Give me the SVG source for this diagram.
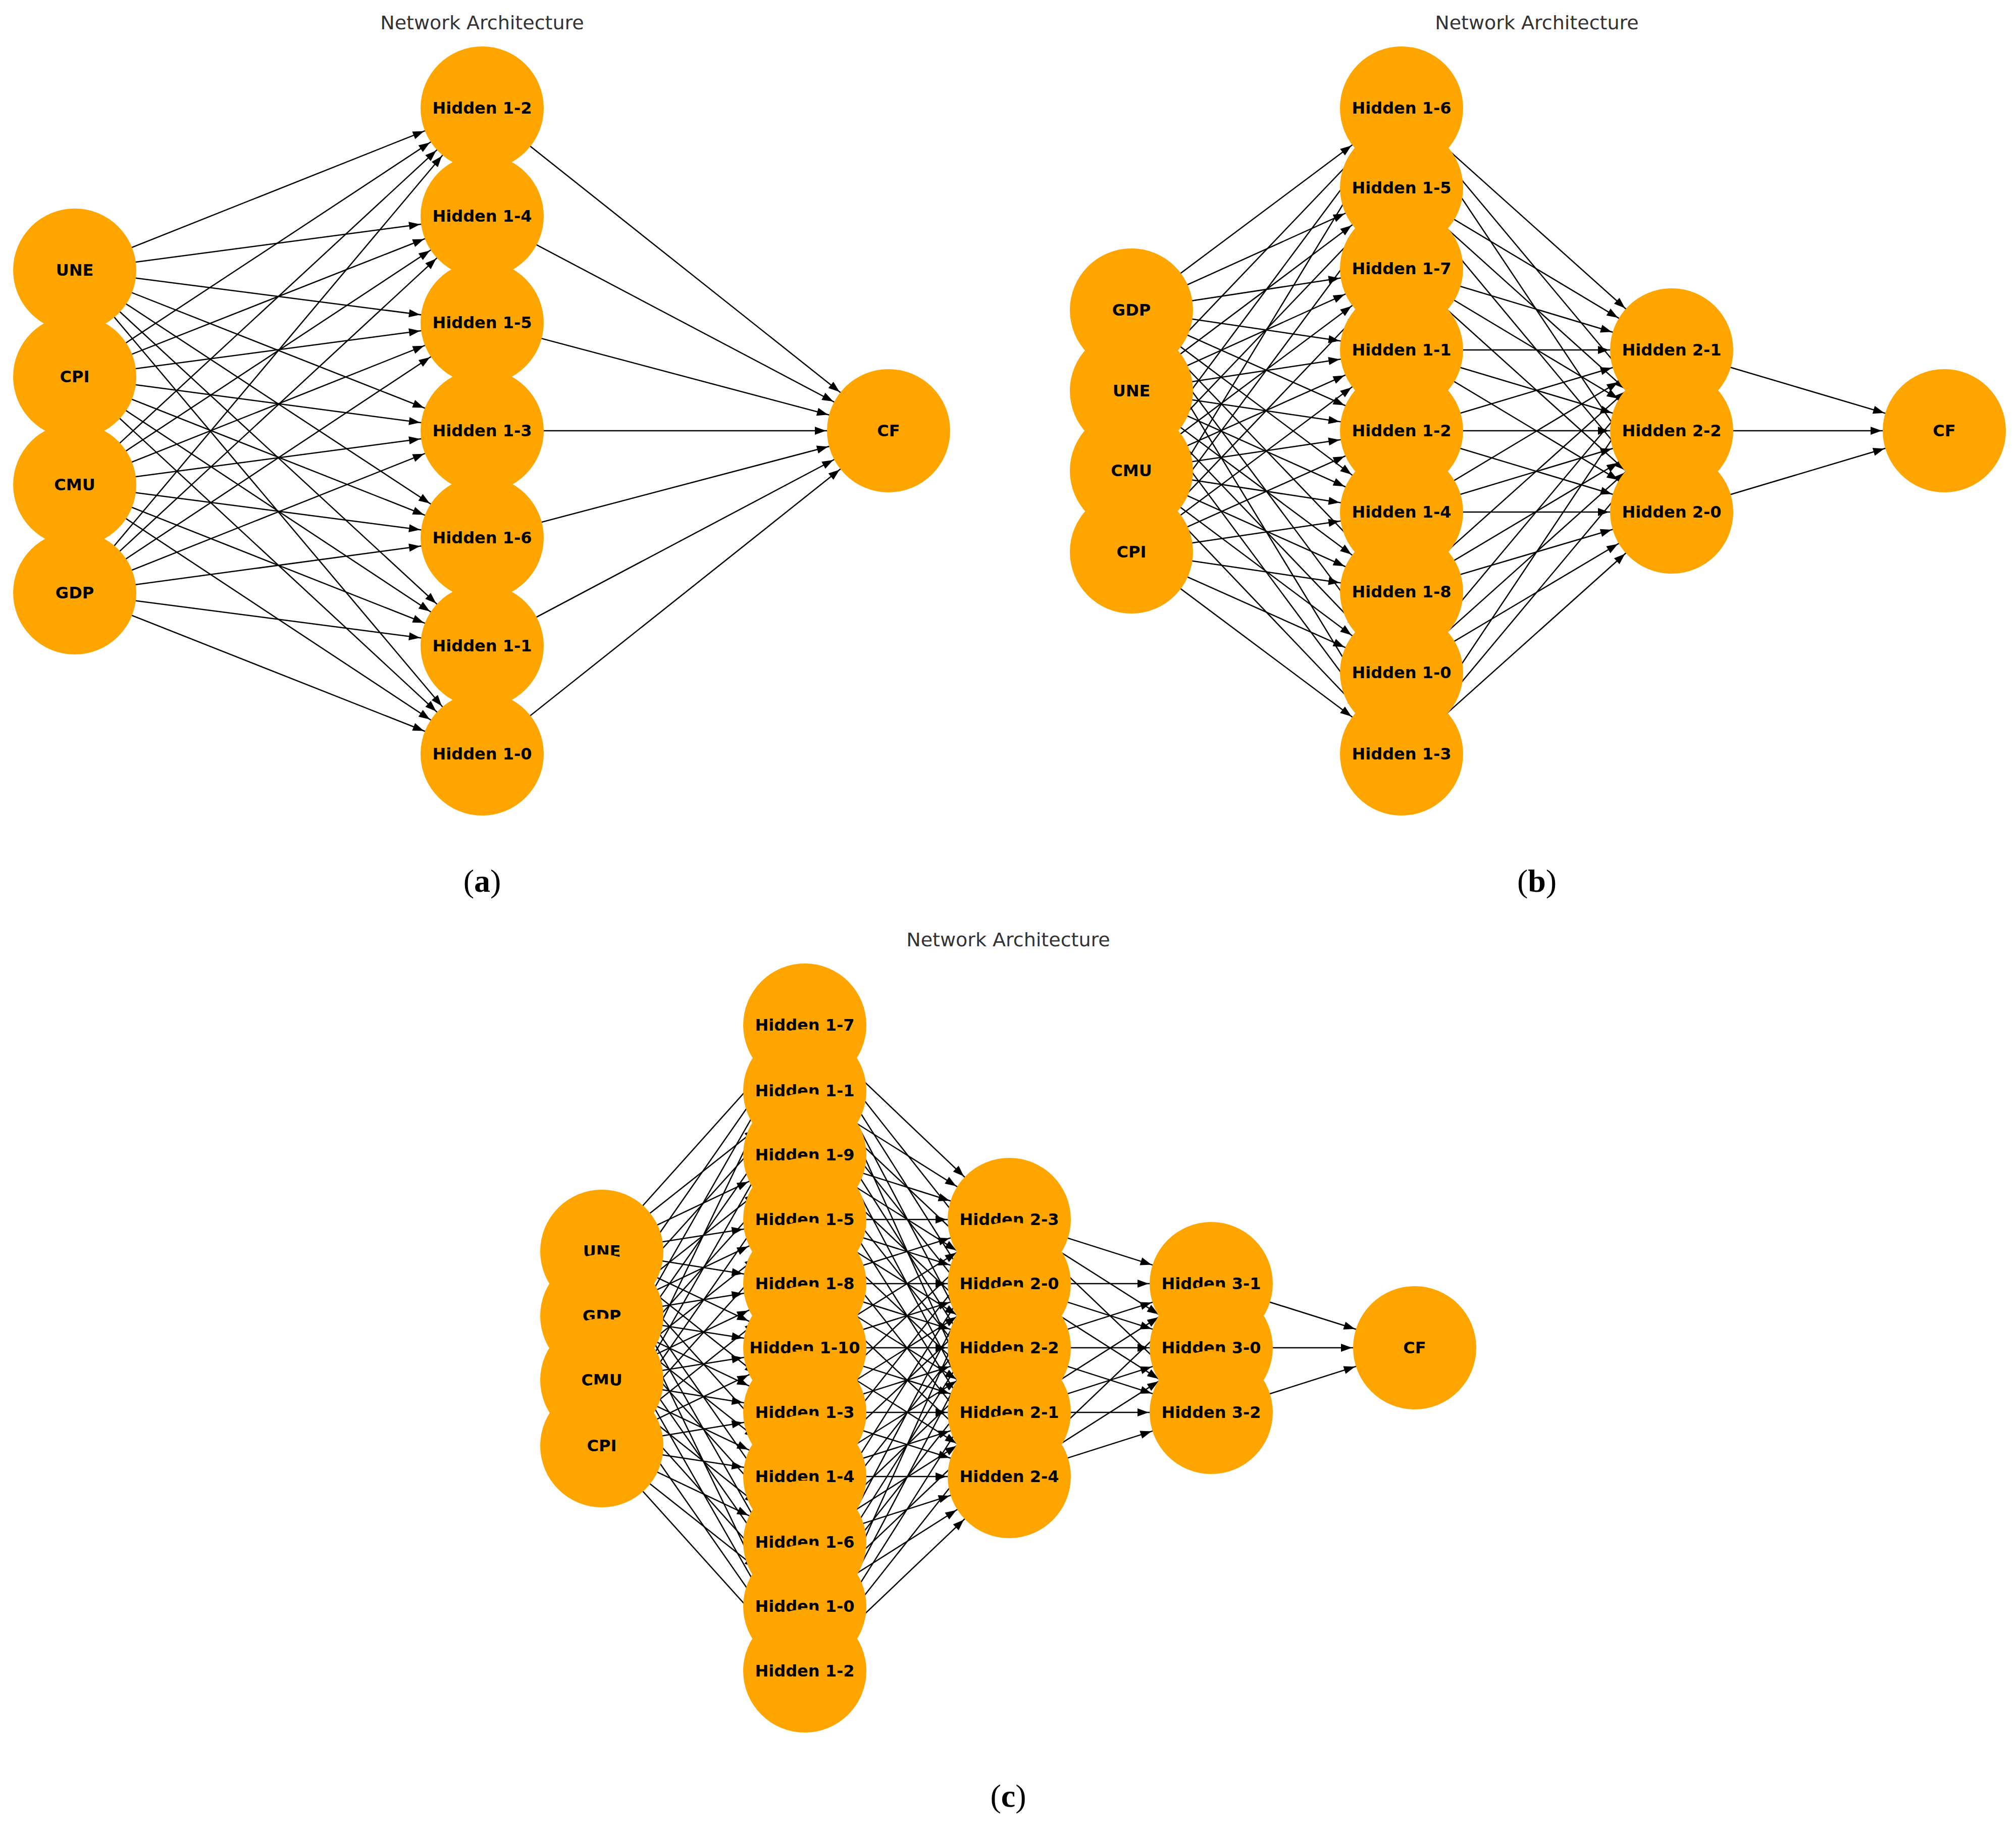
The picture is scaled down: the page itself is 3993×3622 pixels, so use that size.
<svg xmlns="http://www.w3.org/2000/svg" width="3993" height="3622" viewBox="0 0 3993 3622">
<style>
.e{stroke:#000;stroke-width:2.5;fill:none;marker-end:url(#ah)}
.n{fill:#FFA500}
.t{font-family:"DejaVu Sans",sans-serif;font-weight:bold;font-size:32px;text-anchor:middle;dominant-baseline:central;fill:#000}
.ti{font-family:"DejaVu Sans",sans-serif;font-size:38px;text-anchor:middle;fill:#333}
.cap{font-family:"Liberation Serif",serif;font-size:64px;text-anchor:middle;fill:#000}
</style>
<defs>
<marker id="ah" markerUnits="userSpaceOnUse" orient="auto" refX="0" refY="0" markerWidth="10" markerHeight="10" overflow="visible">
<path d="M-124,0 L-146,-8 L-146,8 Z" fill="#000"/>
</marker>
</defs>
<rect width="3993" height="3622" fill="#fff"/>
<text class="ti" x="955" y="58">Network Architecture</text>
<text class="ti" x="3044" y="58">Network Architecture</text>
<text class="ti" x="1997" y="1874">Network Architecture</text>
<text class="cap" x="955" y="1766">(<tspan font-weight="bold">a</tspan>)</text>
<text class="cap" x="3044" y="1766">(<tspan font-weight="bold">b</tspan>)</text>
<text class="cap" x="1997" y="3578">(<tspan font-weight="bold">c</tspan>)</text>
<g id="connectors">
<path class="e" d="M148 535L955 214"/><path class="e" d="M148 535L955 428"/><path class="e" d="M148 535L955 639"/><path class="e" d="M148 535L955 853"/><path class="e" d="M148 535L955 1065"/><path class="e" d="M148 535L955 1279"/><path class="e" d="M148 535L955 1493"/>
<path class="e" d="M148 746L955 214"/><path class="e" d="M148 746L955 428"/><path class="e" d="M148 746L955 639"/><path class="e" d="M148 746L955 853"/><path class="e" d="M148 746L955 1065"/><path class="e" d="M148 746L955 1279"/><path class="e" d="M148 746L955 1493"/>
<path class="e" d="M148 960L955 214"/><path class="e" d="M148 960L955 428"/><path class="e" d="M148 960L955 639"/><path class="e" d="M148 960L955 853"/><path class="e" d="M148 960L955 1065"/><path class="e" d="M148 960L955 1279"/><path class="e" d="M148 960L955 1493"/>
<path class="e" d="M148 1174L955 214"/><path class="e" d="M148 1174L955 428"/><path class="e" d="M148 1174L955 639"/><path class="e" d="M148 1174L955 853"/><path class="e" d="M148 1174L955 1065"/><path class="e" d="M148 1174L955 1279"/><path class="e" d="M148 1174L955 1493"/>
<path class="e" d="M955 214L1760 853"/><path class="e" d="M955 428L1760 853"/><path class="e" d="M955 639L1760 853"/><path class="e" d="M955 853L1760 853"/><path class="e" d="M955 1065L1760 853"/><path class="e" d="M955 1279L1760 853"/><path class="e" d="M955 1493L1760 853"/>

<path class="e" d="M2241 614L2776 214"/><path class="e" d="M2241 614L2776 372"/><path class="e" d="M2241 614L2776 532"/><path class="e" d="M2241 614L2776 693"/><path class="e" d="M2241 614L2776 853"/><path class="e" d="M2241 614L2776 1014"/><path class="e" d="M2241 614L2776 1172"/><path class="e" d="M2241 614L2776 1332"/><path class="e" d="M2241 614L2776 1493"/>
<path class="e" d="M2241 774L2776 214"/><path class="e" d="M2241 774L2776 372"/><path class="e" d="M2241 774L2776 532"/><path class="e" d="M2241 774L2776 693"/><path class="e" d="M2241 774L2776 853"/><path class="e" d="M2241 774L2776 1014"/><path class="e" d="M2241 774L2776 1172"/><path class="e" d="M2241 774L2776 1332"/><path class="e" d="M2241 774L2776 1493"/>
<path class="e" d="M2241 932L2776 214"/><path class="e" d="M2241 932L2776 372"/><path class="e" d="M2241 932L2776 532"/><path class="e" d="M2241 932L2776 693"/><path class="e" d="M2241 932L2776 853"/><path class="e" d="M2241 932L2776 1014"/><path class="e" d="M2241 932L2776 1172"/><path class="e" d="M2241 932L2776 1332"/><path class="e" d="M2241 932L2776 1493"/>
<path class="e" d="M2241 1093L2776 214"/><path class="e" d="M2241 1093L2776 372"/><path class="e" d="M2241 1093L2776 532"/><path class="e" d="M2241 1093L2776 693"/><path class="e" d="M2241 1093L2776 853"/><path class="e" d="M2241 1093L2776 1014"/><path class="e" d="M2241 1093L2776 1172"/><path class="e" d="M2241 1093L2776 1332"/><path class="e" d="M2241 1093L2776 1493"/>
<path class="e" d="M2776 214L3311 693"/><path class="e" d="M2776 214L3311 853"/><path class="e" d="M2776 214L3311 1014"/>
<path class="e" d="M2776 372L3311 693"/><path class="e" d="M2776 372L3311 853"/><path class="e" d="M2776 372L3311 1014"/>
<path class="e" d="M2776 532L3311 693"/><path class="e" d="M2776 532L3311 853"/><path class="e" d="M2776 532L3311 1014"/>
<path class="e" d="M2776 693L3311 693"/><path class="e" d="M2776 693L3311 853"/><path class="e" d="M2776 693L3311 1014"/>
<path class="e" d="M2776 853L3311 693"/><path class="e" d="M2776 853L3311 853"/><path class="e" d="M2776 853L3311 1014"/>
<path class="e" d="M2776 1014L3311 693"/><path class="e" d="M2776 1014L3311 853"/><path class="e" d="M2776 1014L3311 1014"/>
<path class="e" d="M2776 1172L3311 693"/><path class="e" d="M2776 1172L3311 853"/><path class="e" d="M2776 1172L3311 1014"/>
<path class="e" d="M2776 1332L3311 693"/><path class="e" d="M2776 1332L3311 853"/><path class="e" d="M2776 1332L3311 1014"/>
<path class="e" d="M2776 1493L3311 693"/><path class="e" d="M2776 1493L3311 853"/><path class="e" d="M2776 1493L3311 1014"/>
<path class="e" d="M3311 693L3851 853"/><path class="e" d="M3311 853L3851 853"/><path class="e" d="M3311 1014L3851 853"/>

<path class="e" d="M1192 2478L1594 2030"/><path class="e" d="M1192 2478L1594 2160"/><path class="e" d="M1192 2478L1594 2287"/><path class="e" d="M1192 2478L1594 2415"/><path class="e" d="M1192 2478L1594 2542"/><path class="e" d="M1192 2478L1594 2669"/><path class="e" d="M1192 2478L1594 2797"/><path class="e" d="M1192 2478L1594 2924"/><path class="e" d="M1192 2478L1594 3054"/><path class="e" d="M1192 2478L1594 3181"/><path class="e" d="M1192 2478L1594 3309"/>
<path class="e" d="M1192 2606L1594 2030"/><path class="e" d="M1192 2606L1594 2160"/><path class="e" d="M1192 2606L1594 2287"/><path class="e" d="M1192 2606L1594 2415"/><path class="e" d="M1192 2606L1594 2542"/><path class="e" d="M1192 2606L1594 2669"/><path class="e" d="M1192 2606L1594 2797"/><path class="e" d="M1192 2606L1594 2924"/><path class="e" d="M1192 2606L1594 3054"/><path class="e" d="M1192 2606L1594 3181"/><path class="e" d="M1192 2606L1594 3309"/>
<path class="e" d="M1192 2733L1594 2030"/><path class="e" d="M1192 2733L1594 2160"/><path class="e" d="M1192 2733L1594 2287"/><path class="e" d="M1192 2733L1594 2415"/><path class="e" d="M1192 2733L1594 2542"/><path class="e" d="M1192 2733L1594 2669"/><path class="e" d="M1192 2733L1594 2797"/><path class="e" d="M1192 2733L1594 2924"/><path class="e" d="M1192 2733L1594 3054"/><path class="e" d="M1192 2733L1594 3181"/><path class="e" d="M1192 2733L1594 3309"/>
<path class="e" d="M1192 2863L1594 2030"/><path class="e" d="M1192 2863L1594 2160"/><path class="e" d="M1192 2863L1594 2287"/><path class="e" d="M1192 2863L1594 2415"/><path class="e" d="M1192 2863L1594 2542"/><path class="e" d="M1192 2863L1594 2669"/><path class="e" d="M1192 2863L1594 2797"/><path class="e" d="M1192 2863L1594 2924"/><path class="e" d="M1192 2863L1594 3054"/><path class="e" d="M1192 2863L1594 3181"/><path class="e" d="M1192 2863L1594 3309"/>
<path class="e" d="M1594 2030L1999 2415"/><path class="e" d="M1594 2030L1999 2542"/><path class="e" d="M1594 2030L1999 2669"/><path class="e" d="M1594 2030L1999 2797"/><path class="e" d="M1594 2030L1999 2924"/>
<path class="e" d="M1594 2160L1999 2415"/><path class="e" d="M1594 2160L1999 2542"/><path class="e" d="M1594 2160L1999 2669"/><path class="e" d="M1594 2160L1999 2797"/><path class="e" d="M1594 2160L1999 2924"/>
<path class="e" d="M1594 2287L1999 2415"/><path class="e" d="M1594 2287L1999 2542"/><path class="e" d="M1594 2287L1999 2669"/><path class="e" d="M1594 2287L1999 2797"/><path class="e" d="M1594 2287L1999 2924"/>
<path class="e" d="M1594 2415L1999 2415"/><path class="e" d="M1594 2415L1999 2542"/><path class="e" d="M1594 2415L1999 2669"/><path class="e" d="M1594 2415L1999 2797"/><path class="e" d="M1594 2415L1999 2924"/>
<path class="e" d="M1594 2542L1999 2415"/><path class="e" d="M1594 2542L1999 2542"/><path class="e" d="M1594 2542L1999 2669"/><path class="e" d="M1594 2542L1999 2797"/><path class="e" d="M1594 2542L1999 2924"/>
<path class="e" d="M1594 2669L1999 2415"/><path class="e" d="M1594 2669L1999 2542"/><path class="e" d="M1594 2669L1999 2669"/><path class="e" d="M1594 2669L1999 2797"/><path class="e" d="M1594 2669L1999 2924"/>
<path class="e" d="M1594 2797L1999 2415"/><path class="e" d="M1594 2797L1999 2542"/><path class="e" d="M1594 2797L1999 2669"/><path class="e" d="M1594 2797L1999 2797"/><path class="e" d="M1594 2797L1999 2924"/>
<path class="e" d="M1594 2924L1999 2415"/><path class="e" d="M1594 2924L1999 2542"/><path class="e" d="M1594 2924L1999 2669"/><path class="e" d="M1594 2924L1999 2797"/><path class="e" d="M1594 2924L1999 2924"/>
<path class="e" d="M1594 3054L1999 2415"/><path class="e" d="M1594 3054L1999 2542"/><path class="e" d="M1594 3054L1999 2669"/><path class="e" d="M1594 3054L1999 2797"/><path class="e" d="M1594 3054L1999 2924"/>
<path class="e" d="M1594 3181L1999 2415"/><path class="e" d="M1594 3181L1999 2542"/><path class="e" d="M1594 3181L1999 2669"/><path class="e" d="M1594 3181L1999 2797"/><path class="e" d="M1594 3181L1999 2924"/>
<path class="e" d="M1594 3309L1999 2415"/><path class="e" d="M1594 3309L1999 2542"/><path class="e" d="M1594 3309L1999 2669"/><path class="e" d="M1594 3309L1999 2797"/><path class="e" d="M1594 3309L1999 2924"/>
<path class="e" d="M1999 2415L2399 2542"/><path class="e" d="M1999 2415L2399 2669"/><path class="e" d="M1999 2415L2399 2797"/>
<path class="e" d="M1999 2542L2399 2542"/><path class="e" d="M1999 2542L2399 2669"/><path class="e" d="M1999 2542L2399 2797"/>
<path class="e" d="M1999 2669L2399 2542"/><path class="e" d="M1999 2669L2399 2669"/><path class="e" d="M1999 2669L2399 2797"/>
<path class="e" d="M1999 2797L2399 2542"/><path class="e" d="M1999 2797L2399 2669"/><path class="e" d="M1999 2797L2399 2797"/>
<path class="e" d="M1999 2924L2399 2542"/><path class="e" d="M1999 2924L2399 2669"/><path class="e" d="M1999 2924L2399 2797"/>
<path class="e" d="M2399 2542L2802 2669"/><path class="e" d="M2399 2669L2802 2669"/><path class="e" d="M2399 2797L2802 2669"/>
</g>
<g id="a-UNE"><circle class="n" cx="148" cy="535" r="122"/><text class="t" x="148" y="535">UNE</text></g>
<g id="a-CPI"><circle class="n" cx="148" cy="746" r="122"/><text class="t" x="148" y="746">CPI</text></g>
<g id="a-CMU"><circle class="n" cx="148" cy="960" r="122"/><text class="t" x="148" y="960">CMU</text></g>
<g id="a-GDP"><circle class="n" cx="148" cy="1174" r="122"/><text class="t" x="148" y="1174">GDP</text></g>
<g id="a-H1-2"><circle class="n" cx="955" cy="214" r="122"/><text class="t" x="955" y="214">Hidden 1-2</text></g>
<g id="a-H1-4"><circle class="n" cx="955" cy="428" r="122"/><text class="t" x="955" y="428">Hidden 1-4</text></g>
<g id="a-H1-5"><circle class="n" cx="955" cy="639" r="122"/><text class="t" x="955" y="639">Hidden 1-5</text></g>
<g id="a-H1-3"><circle class="n" cx="955" cy="853" r="122"/><text class="t" x="955" y="853">Hidden 1-3</text></g>
<g id="a-H1-6"><circle class="n" cx="955" cy="1065" r="122"/><text class="t" x="955" y="1065">Hidden 1-6</text></g>
<g id="a-H1-1"><circle class="n" cx="955" cy="1279" r="122"/><text class="t" x="955" y="1279">Hidden 1-1</text></g>
<g id="a-H1-0"><circle class="n" cx="955" cy="1493" r="122"/><text class="t" x="955" y="1493">Hidden 1-0</text></g>
<g id="a-CF"><circle class="n" cx="1760" cy="853" r="122"/><text class="t" x="1760" y="853">CF</text></g>

<g id="b-GDP"><circle class="n" cx="2241" cy="614" r="122"/><text class="t" x="2241" y="614">GDP</text></g>
<g id="b-UNE"><circle class="n" cx="2241" cy="774" r="122"/><text class="t" x="2241" y="774">UNE</text></g>
<g id="b-CMU"><circle class="n" cx="2241" cy="932" r="122"/><text class="t" x="2241" y="932">CMU</text></g>
<g id="b-CPI"><circle class="n" cx="2241" cy="1093" r="122"/><text class="t" x="2241" y="1093">CPI</text></g>
<g id="b-H1-6"><circle class="n" cx="2776" cy="214" r="122"/><text class="t" x="2776" y="214">Hidden 1-6</text></g>
<g id="b-H1-5"><circle class="n" cx="2776" cy="372" r="122"/><text class="t" x="2776" y="372">Hidden 1-5</text></g>
<g id="b-H1-7"><circle class="n" cx="2776" cy="532" r="122"/><text class="t" x="2776" y="532">Hidden 1-7</text></g>
<g id="b-H1-1"><circle class="n" cx="2776" cy="693" r="122"/><text class="t" x="2776" y="693">Hidden 1-1</text></g>
<g id="b-H1-2"><circle class="n" cx="2776" cy="853" r="122"/><text class="t" x="2776" y="853">Hidden 1-2</text></g>
<g id="b-H1-4"><circle class="n" cx="2776" cy="1014" r="122"/><text class="t" x="2776" y="1014">Hidden 1-4</text></g>
<g id="b-H1-8"><circle class="n" cx="2776" cy="1172" r="122"/><text class="t" x="2776" y="1172">Hidden 1-8</text></g>
<g id="b-H1-0"><circle class="n" cx="2776" cy="1332" r="122"/><text class="t" x="2776" y="1332">Hidden 1-0</text></g>
<g id="b-H1-3"><circle class="n" cx="2776" cy="1493" r="122"/><text class="t" x="2776" y="1493">Hidden 1-3</text></g>
<g id="b-H2-1"><circle class="n" cx="3311" cy="693" r="122"/><text class="t" x="3311" y="693">Hidden 2-1</text></g>
<g id="b-H2-2"><circle class="n" cx="3311" cy="853" r="122"/><text class="t" x="3311" y="853">Hidden 2-2</text></g>
<g id="b-H2-0"><circle class="n" cx="3311" cy="1014" r="122"/><text class="t" x="3311" y="1014">Hidden 2-0</text></g>
<g id="b-CF"><circle class="n" cx="3851" cy="853" r="122"/><text class="t" x="3851" y="853">CF</text></g>

<g id="c-UNE"><circle class="n" cx="1192" cy="2478" r="122"/><text class="t" x="1192" y="2478">UNE</text></g>
<g id="c-GDP"><circle class="n" cx="1192" cy="2606" r="122"/><text class="t" x="1192" y="2606">GDP</text></g>
<g id="c-CMU"><circle class="n" cx="1192" cy="2733" r="122"/><text class="t" x="1192" y="2733">CMU</text></g>
<g id="c-CPI"><circle class="n" cx="1192" cy="2863" r="122"/><text class="t" x="1192" y="2863">CPI</text></g>
<g id="c-H1-7"><circle class="n" cx="1594" cy="2030" r="122"/><text class="t" x="1594" y="2030">Hidden 1-7</text></g>
<g id="c-H1-1"><circle class="n" cx="1594" cy="2160" r="122"/><text class="t" x="1594" y="2160">Hidden 1-1</text></g>
<g id="c-H1-9"><circle class="n" cx="1594" cy="2287" r="122"/><text class="t" x="1594" y="2287">Hidden 1-9</text></g>
<g id="c-H1-5"><circle class="n" cx="1594" cy="2415" r="122"/><text class="t" x="1594" y="2415">Hidden 1-5</text></g>
<g id="c-H1-8"><circle class="n" cx="1594" cy="2542" r="122"/><text class="t" x="1594" y="2542">Hidden 1-8</text></g>
<g id="c-H1-10"><circle class="n" cx="1594" cy="2669" r="122"/><text class="t" x="1594" y="2669">Hidden 1-10</text></g>
<g id="c-H1-3"><circle class="n" cx="1594" cy="2797" r="122"/><text class="t" x="1594" y="2797">Hidden 1-3</text></g>
<g id="c-H1-4"><circle class="n" cx="1594" cy="2924" r="122"/><text class="t" x="1594" y="2924">Hidden 1-4</text></g>
<g id="c-H1-6"><circle class="n" cx="1594" cy="3054" r="122"/><text class="t" x="1594" y="3054">Hidden 1-6</text></g>
<g id="c-H1-0"><circle class="n" cx="1594" cy="3181" r="122"/><text class="t" x="1594" y="3181">Hidden 1-0</text></g>
<g id="c-H1-2"><circle class="n" cx="1594" cy="3309" r="122"/><text class="t" x="1594" y="3309">Hidden 1-2</text></g>
<g id="c-H2-3"><circle class="n" cx="1999" cy="2415" r="122"/><text class="t" x="1999" y="2415">Hidden 2-3</text></g>
<g id="c-H2-0"><circle class="n" cx="1999" cy="2542" r="122"/><text class="t" x="1999" y="2542">Hidden 2-0</text></g>
<g id="c-H2-2"><circle class="n" cx="1999" cy="2669" r="122"/><text class="t" x="1999" y="2669">Hidden 2-2</text></g>
<g id="c-H2-1"><circle class="n" cx="1999" cy="2797" r="122"/><text class="t" x="1999" y="2797">Hidden 2-1</text></g>
<g id="c-H2-4"><circle class="n" cx="1999" cy="2924" r="122"/><text class="t" x="1999" y="2924">Hidden 2-4</text></g>
<g id="c-H3-1"><circle class="n" cx="2399" cy="2542" r="122"/><text class="t" x="2399" y="2542">Hidden 3-1</text></g>
<g id="c-H3-0"><circle class="n" cx="2399" cy="2669" r="122"/><text class="t" x="2399" y="2669">Hidden 3-0</text></g>
<g id="c-H3-2"><circle class="n" cx="2399" cy="2797" r="122"/><text class="t" x="2399" y="2797">Hidden 3-2</text></g>
<g id="c-CF"><circle class="n" cx="2802" cy="2669" r="122"/><text class="t" x="2802" y="2669">CF</text></g>
</svg>
